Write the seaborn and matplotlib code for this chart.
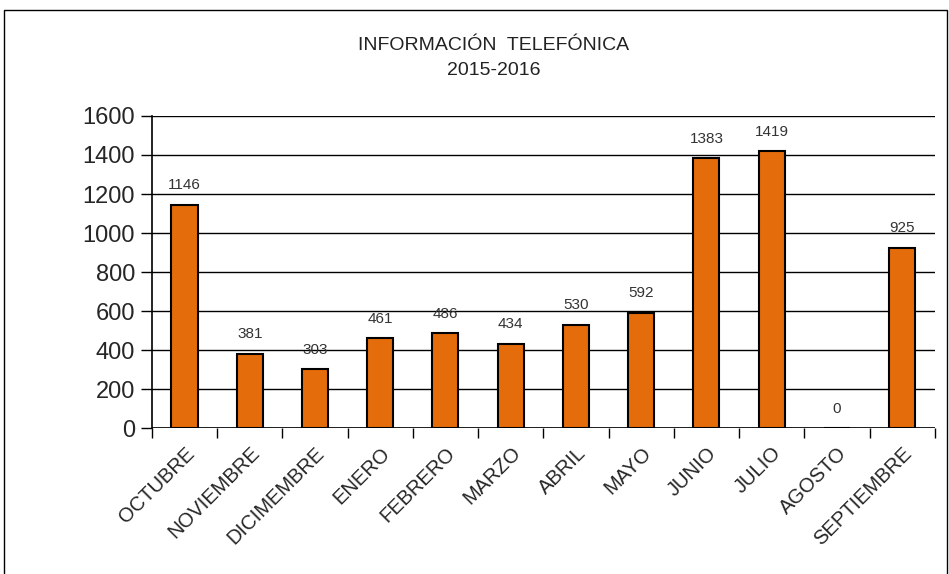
import matplotlib
matplotlib.use("Agg")
import matplotlib.pyplot as plt
import seaborn as sns
import pandas as pd
from matplotlib.patches import Rectangle

months = ["OCTUBRE", "NOVIEMBRE", "DICIMEMBRE", "ENERO", "FEBRERO", "MARZO",
          "ABRIL", "MAYO", "JUNIO", "JULIO", "AGOSTO", "SEPTIEMBRE"]
calls = [1146, 381, 303, 461, 486, 434, 530, 592, 1383, 1419, 0, 925]
yticks = [0, 200, 400, 600, 800, 1000, 1200, 1400, 1600]

sns.set_theme(style="white")
plt.rcParams['font.family'] = ['Liberation Sans', 'DejaVu Sans']

df = pd.DataFrame({"mes": months, "valor": calls})

fig = plt.figure(figsize=(9.49, 5.74), dpi=100)
ax = fig.add_axes([0.160, 0.254, 0.825, 0.544])

sns.barplot(data=df, x="mes", y="valor", color="#E46C0A", width=0.4,
            edgecolor="black", linewidth=1.5, saturation=1, ax=ax, zorder=3)

ax.set_ylim(0, 1600)
ax.set_xlim(-0.5, len(months) - 0.5)
ax.set_yticks(yticks)
ax.set_yticklabels([str(v) for v in yticks], fontsize=17)
ax.grid(axis="y", color="black", linewidth=1.0, zorder=0)
ax.set_xlabel("")
ax.set_ylabel("")

for side in ["top", "right", "bottom"]:
    ax.spines[side].set_visible(False)
ax.spines["left"].set_color("black")
ax.spines["left"].set_linewidth(1.2)
ax.axhline(0, color="black", linewidth=1.2, zorder=4)

ax.tick_params(axis="y", which="major", left=True, length=8, width=1, color="black", pad=4)
ax.set_xticks(range(len(months)))
ax.set_xticklabels(months, rotation=45, ha="right", rotation_mode="anchor", fontsize=14.5)
ax.tick_params(axis="x", which="major", bottom=False, pad=5)
ax.set_xticks([i + 0.5 for i in range(-1, len(months))], minor=True)
ax.tick_params(axis="x", which="minor", bottom=True, length=7, width=1, color="black")

for c in ax.containers:
    ax.bar_label(c, labels=[str(v) for v in calls], padding=9, fontsize=11, color="#333333")

fig.text(0.52, 0.921, "INFORMACIÓN  TELEFÓNICA", ha="center", va="center", fontsize=14, color="#222222")
fig.text(0.52, 0.878, "2015-2016", ha="center", va="center", fontsize=14, color="#222222")

fig.patches.append(Rectangle((4 / 949, -0.05), 943 / 949, 1 - 10 / 574 + 0.05,
                             transform=fig.transFigure, fill=False,
                             edgecolor="black", linewidth=1.0))

fig.savefig("out.png", dpi=100, facecolor="white")
